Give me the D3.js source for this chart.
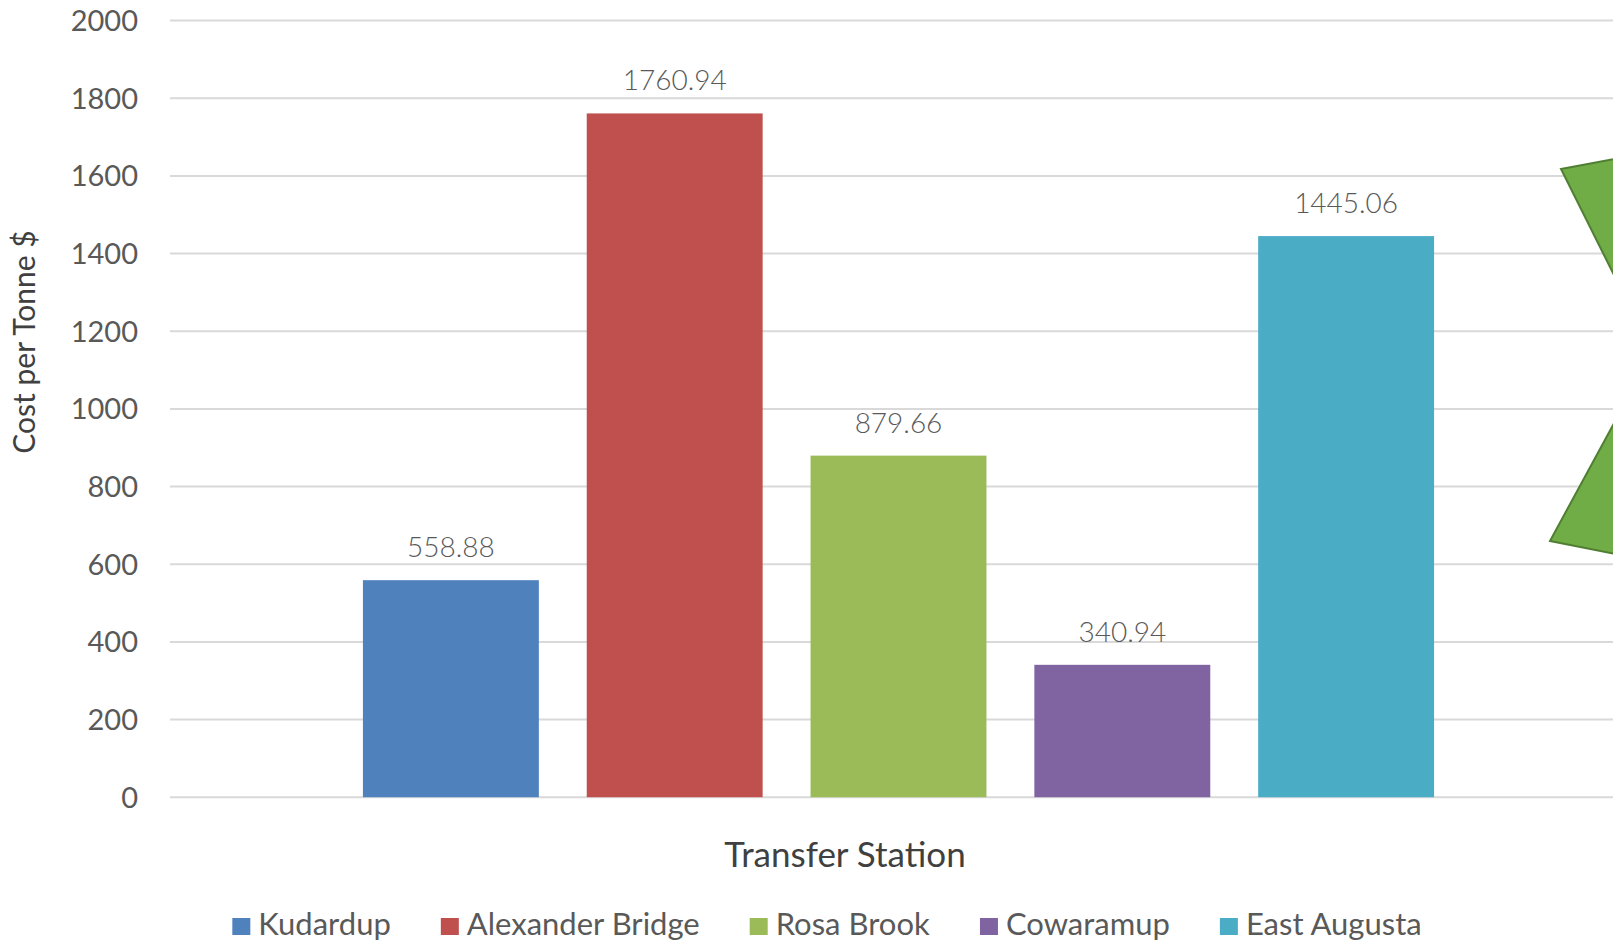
<!DOCTYPE html>
<html>
  <head>
    <meta charset="utf-8">
    <script src="https://cdn.jsdelivr.net/npm/d3@7"></script>
    <title>Cost per Tonne by Transfer Station</title>
    <style>
      body {
        margin: 0px;
        background: #fff;
      }
      svg text {
        font-family: Lato, "Open Sans", sans-serif;
        fill: #595959;
      }
      .grid line {
        stroke: #D9D9D9;
        stroke-width: 2;
      }
      .tick-label { font-size: 29px; }
      .bar-label { font-size: 28px; font-weight: 300; }
      .axis-label { font-size: 35px; fill: #404040; }
      .legend text { font-size: 31px; }
    </style>
  </head>
  <body>
    <svg width="1613" height="943"></svg>
    <script>
      // data
      const stations = ['Kudardup', 'Alexander Bridge', 'Rosa Brook', 'Cowaramup', 'East Augusta'];
      const costs = [558.88, 1760.94, 879.66, 340.94, 1445.06];
      const colors = ['#4F81BD', '#C0504D', '#9BBB59', '#8064A2', '#4BACC6'];
      const yTicks = [0, 200, 400, 600, 800, 1000, 1200, 1400, 1600, 1800, 2000];

      const data = stations.map((s, i) => ({ name: s, cost: costs[i], color: colors[i] }));

      const svg = d3.select('svg');
      const plot = { left: 170, right: 1627, top: 20.6, bottom: 797.2 };

      const xScale = d3.scaleBand()
        .domain(stations)
        .range([plot.left, plot.right])
        .paddingInner(0.214)
        .paddingOuter(0.862);

      const yScale = d3.scaleLinear()
        .domain([0, 2000])
        .range([plot.bottom, plot.top]);

      // gridlines + tick labels
      const grid = svg.append('g').attr('class', 'grid');
      grid.selectAll('line')
        .data(yTicks)
        .enter().append('line')
          .attr('x1', plot.left)
          .attr('x2', plot.right)
          .attr('y1', d => yScale(d))
          .attr('y2', d => yScale(d));

      svg.append('g').selectAll('text')
        .data(yTicks)
        .enter().append('text')
          .attr('class', 'tick-label')
          .attr('x', 138)
          .attr('y', d => yScale(d))
          .attr('dy', '0.36em')
          .attr('text-anchor', 'end')
          .text(d => d);

      // bars
      svg.append('g').selectAll('rect')
        .data(data)
        .enter().append('rect')
          .attr('x', d => xScale(d.name))
          .attr('y', d => yScale(d.cost))
          .attr('width', xScale.bandwidth())
          .attr('height', d => yScale(0) - yScale(d.cost))
          .attr('fill', d => d.color);

      // value labels
      svg.append('g').selectAll('text')
        .data(data)
        .enter().append('text')
          .attr('class', 'bar-label')
          .attr('x', d => xScale(d.name) + xScale.bandwidth() / 2)
          .attr('y', d => yScale(d.cost) - 23)
          .attr('text-anchor', 'middle')
          .text(d => d.cost.toFixed(2));

      // axis titles
      svg.append('text')
        .attr('class', 'axis-label')
        .attr('x', 845)
        .attr('y', 867)
        .attr('text-anchor', 'middle')
        .text('Transfer Station');

      svg.append('text')
        .attr('class', 'axis-label')
        .attr('transform', 'translate(35,342) rotate(-90)')
        .attr('text-anchor', 'middle')
        .style('font-size', '30px')
        .text('Cost per Tonne $');

      // legend, laid out left to right and centred
      const gap = 50;
      const legend = svg.append('g').attr('class', 'legend');
      const items = legend.selectAll('g')
        .data(data)
        .enter().append('g');
      items.append('rect')
        .attr('width', 18)
        .attr('height', 17)
        .attr('y', 918)
        .attr('fill', d => d.color);
      items.append('text')
        .attr('x', 26)
        .attr('y', 935)
        .text(d => d.name);

      let cursor = 0;
      items.each(function () {
        const w = this.getBBox().width;
        d3.select(this).attr('data-x', cursor);
        cursor += w + gap;
      });
      const total = cursor - gap;
      const start = 827 - total / 2;
      items.attr('transform', function () {
        return `translate(${start + +d3.select(this).attr('data-x')},0)`;
      });

      // green shape partly visible on the right edge
      const shape = svg.append('g')
        .attr('fill', '#70AD47')
        .attr('stroke', '#507E32')
        .attr('stroke-width', 2);
      shape.append('polygon').attr('points', '1561,169 1625,157 1625,297');
      shape.append('polygon').attr('points', '1625,403 1550,541 1625,556');
    </script>
  </body>
</html>
